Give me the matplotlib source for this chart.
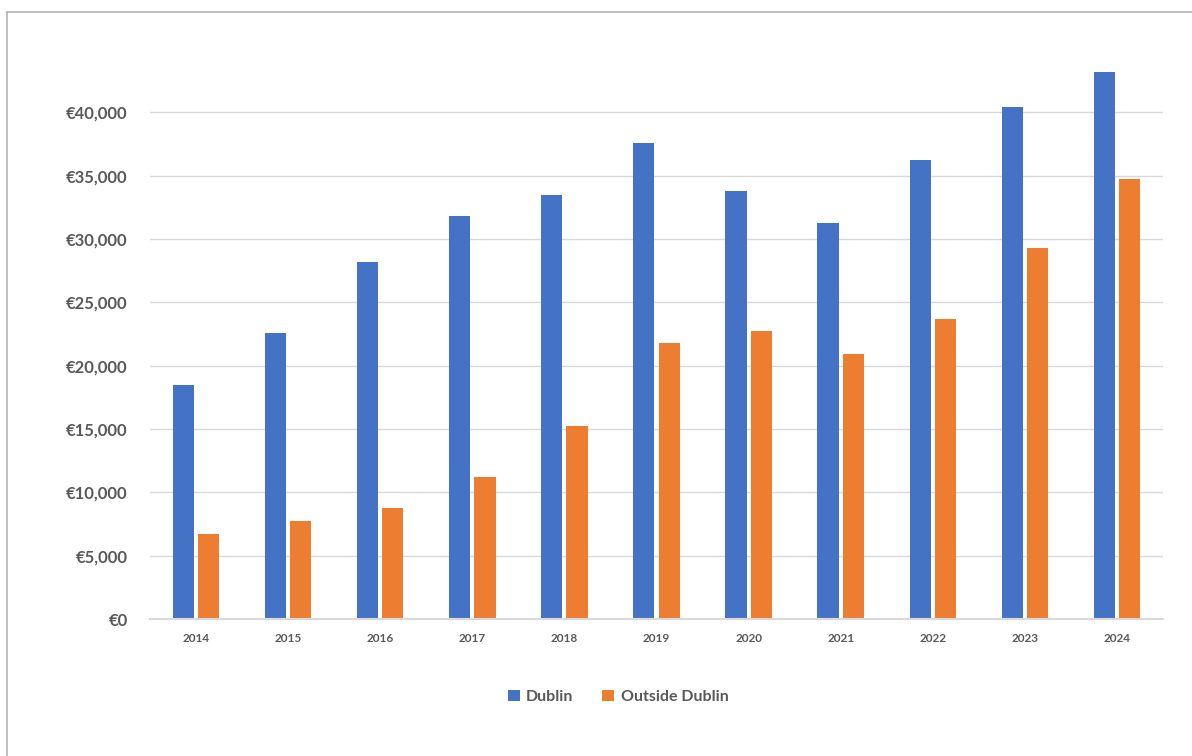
import matplotlib.pyplot as plt
import numpy as np
from matplotlib.lines import Line2D
from matplotlib.ticker import FuncFormatter

plt.rcParams['font.family'] = ['Lato', 'DejaVu Sans']

years = ['2014', '2015', '2016', '2017', '2018', '2019', '2020', '2021', '2022', '2023', '2024']
dublin = [18500, 22600, 28200, 31800, 33500, 37600, 33800, 31300, 36200, 40400, 43200]
outside = [6700, 7700, 8750, 11200, 15200, 21800, 22700, 20900, 23700, 29300, 34700]

blue = '#4472C4'
orange = '#ED7D31'
grey_txt = '#595959'

fig = plt.figure(figsize=(11.92, 7.56), dpi=100)
ax = fig.add_axes([150 / 1192, 1 - 619 / 756, 1013 / 1192, (619 - 49) / 756])

x = np.arange(len(years))
w = 0.23
ax.bar(x - 0.137, dublin, w, color=blue, label='Dublin', zorder=2)
ax.bar(x + 0.137, outside, w, color=orange, label='Outside Dublin', zorder=2)

ax.set_xlim(-0.5, len(years) - 0.5)
ax.set_ylim(0, 45000)
ax.set_yticks(np.arange(0, 40001, 5000))
ax.yaxis.set_major_formatter(FuncFormatter(lambda v, p: '€{:,.0f}'.format(v)))
ax.set_xticks(x)
ax.set_xticklabels(years)

ax.grid(axis='y', color='#d9d9d9', linewidth=1, zorder=0)
for s in ['top', 'right', 'left']:
    ax.spines[s].set_visible(False)
ax.spines['bottom'].set_color('#d9d9d9')
ax.spines['bottom'].set_linewidth(1.5)
ax.spines['bottom'].set_zorder(3)
ax.tick_params(axis='both', length=0)
ax.tick_params(axis='y', pad=16, labelsize=12, labelcolor=grey_txt)
ax.tick_params(axis='x', pad=10, labelsize=8.5, labelcolor=grey_txt)
for lbl in ax.get_xticklabels() + ax.get_yticklabels():
    lbl.set_fontweight('bold')

leg = fig.legend(loc='center', bbox_to_anchor=(618 / 1192, 1 - 697 / 756), ncol=2,
                 frameon=False, prop={'size': 11.5, 'weight': 'bold'},
                 handlelength=0.75, handleheight=0.75, handletextpad=0.4, columnspacing=1.8)
for t in leg.get_texts():
    t.set_color(grey_txt)

# chart frame (cropped screenshot)
fig.add_artist(Line2D([7 / 1192, 1], [1 - 12 / 756, 1 - 12 / 756], color='#b4b4b4', linewidth=1.2))
fig.add_artist(Line2D([7 / 1192, 7 / 1192], [0, 1 - 12 / 756], color='#b4b4b4', linewidth=1.2))

fig.savefig('out.png', dpi=100)
